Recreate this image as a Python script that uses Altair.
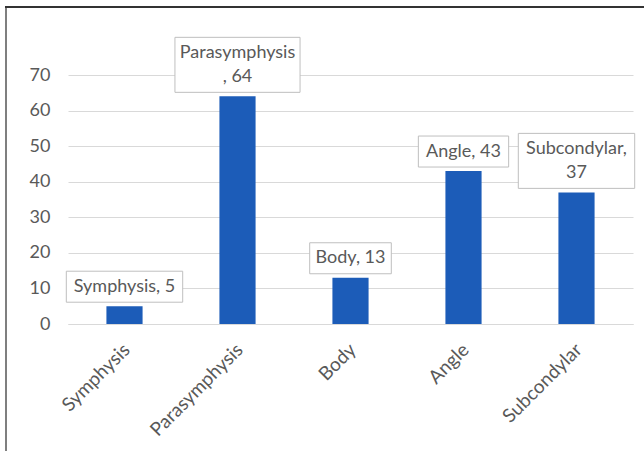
import altair as alt
import pandas as pd

# Fracture sites and case counts
categories = ["Symphysis", "Parasymphysis", "Body", "Angle", "Subcondylar"]
counts = [5, 64, 13, 43, 37]
# where each data label wraps onto a second line
label_wrap = ["none", "before_comma", "none", "none", "after_comma"]
y_ticks = [0, 10, 20, 30, 40, 50, 60, 70]

PLOT_W, PLOT_H = 565, 249
PAD = {"left": 68, "top": 75, "right": 11, "bottom": 127}
Y_MAX = 70
PX_PER_Y = PLOT_H / Y_MAX
PX_PER_BAND = PLOT_W / len(categories)

TEXT = "#595959"
BAR = "#1c5cb8"
GRID = "#d9d9d9"
FONT = "Lato"
LABEL_SIZE = 18
LINE_H = 24


def make_label(cat, n, wrap):
    if wrap == "before_comma":
        return f"{cat}\n, {n}"
    if wrap == "after_comma":
        return f"{cat},\n{n}"
    return f"{cat}, {n}"


rows = []
for i, (cat, n, wrap) in enumerate(zip(categories, counts, label_wrap)):
    label = make_label(cat, n, wrap)
    lines = label.split("\n")
    nchar = max(len(s) for s in lines)
    half_w = (nchar * 8.7 + 12) / 2 / PX_PER_BAND
    y_lo = n + 4 / PX_PER_Y
    y_hi = y_lo + (len(lines) * LINE_H + 7) / PX_PER_Y
    rows.append(dict(site=cat, count=n, label=label, pos=i + 0.5,
                     bx0=i + 0.5 - half_w, bx1=i + 0.5 + half_w,
                     by0=y_lo, by1=y_hi,
                     ytext=y_hi - (3.5 + LINE_H / 2) / PX_PER_Y))
df = pd.DataFrame(rows)

y_scale = alt.Scale(domain=[0, Y_MAX], nice=False)
y_axis = alt.Axis(values=y_ticks, labelFont=FONT, labelFontSize=18,
                  labelColor=TEXT, ticks=False, tickSize=0,
                  labelPadding=18, domain=False, gridColor=GRID, title=None)

bars = alt.Chart(df).mark_bar(color=BAR).encode(
    x=alt.X("site:N", sort=categories, title=None,
            scale=alt.Scale(paddingInner=0.68, paddingOuter=0.34),
            axis=alt.Axis(labelAngle=-45, labelFont=FONT, labelFontSize=19,
                          labelColor=TEXT, ticks=False, tickSize=0,
                          labelPadding=16, labelOffset=-4,
                          domainColor=GRID, grid=False)),
    y=alt.Y("count:Q", scale=y_scale, axis=y_axis),
)

pos_scale = alt.Scale(domain=[0, len(categories)], nice=False, zero=False)

boxes = alt.Chart(df).mark_rect(fill="white", stroke="#bfbfbf", strokeWidth=1).encode(
    x=alt.X("bx0:Q", scale=pos_scale, axis=None),
    x2="bx1:Q",
    y=alt.Y("by0:Q", scale=y_scale, axis=y_axis),
    y2="by1:Q",
)

labels = alt.Chart(df).mark_text(font=FONT, fontSize=LABEL_SIZE, color=TEXT,
                                 lineBreak="\n", lineHeight=LINE_H,
                                 baseline="middle", align="center").encode(
    x=alt.X("pos:Q", scale=pos_scale, axis=None),
    y=alt.Y("ytext:Q", scale=y_scale, axis=y_axis),
    text="label:N",
)

# outer frame lines (left and top)
frame_left = alt.Chart(df).mark_rule(color="#7f7f7f", strokeWidth=2).encode(
    x=alt.value(-62), y=alt.value(-68), y2=alt.value(PLOT_H + PAD["bottom"]))
frame_top = alt.Chart(df).mark_rule(color="#333333", strokeWidth=2).encode(
    x=alt.value(-63), x2=alt.value(PLOT_W + PAD["right"]), y=alt.value(-68))

chart = alt.layer(bars, boxes, labels, frame_left, frame_top).resolve_scale(
    x="independent"
).properties(
    width=PLOT_W, height=PLOT_H,
    padding=PAD,
    autosize=alt.AutoSizeParams(type="none"),
    background="white",
).configure_view(stroke=None)

chart.save("out.html", embed_options={"renderer": "svg", "actions": False})
